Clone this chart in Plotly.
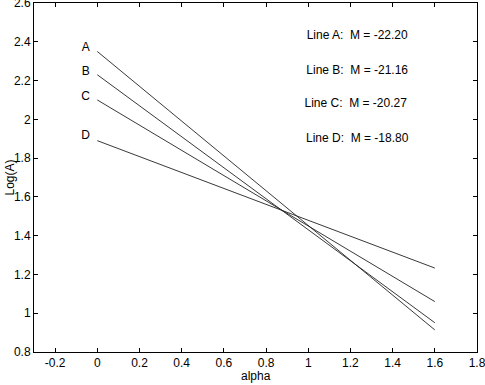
import plotly.graph_objects as go

# line endpoints (x = alpha, y = Log(A))
alpha = [0.0, 1.6]
line_names = ["A", "B", "C", "D"]
log_a = {
    "A": [2.35, 0.914],
    "B": [2.23, 0.951],
    "C": [2.10, 1.060],
    "D": [1.89, 1.233],
}
slopes = ["-22.20", "-21.16", "-20.27", "-18.80"]

# letter labels next to the line starts
letter_x = [-0.055, -0.055, -0.055, -0.055]
letter_y = [2.37, 2.246, 2.113, 1.914]

# slope text block
note_x = [1.232, 1.232, 1.225, 1.232]
note_y = [2.43, 2.251, 2.079, 1.90]

FONT = "Liberation Sans, Arial, Helvetica, sans-serif"

fig = go.Figure()

for name in line_names:
    fig.add_trace(go.Scatter(x=alpha, y=log_a[name], mode="lines",
                             line=dict(color="#222222", width=0.9),
                             showlegend=False, hoverinfo="skip"))

fig.add_trace(go.Scatter(x=letter_x, y=letter_y, mode="text", text=line_names,
                         textfont=dict(family=FONT, size=12, color="black"),
                         showlegend=False, hoverinfo="skip"))

notes = [f"Line {n}:  M = {m}" for n, m in zip(line_names, slopes)]
fig.add_trace(go.Scatter(x=note_x, y=note_y, mode="text", text=notes,
                         textfont=dict(family=FONT, size=12, color="black"),
                         showlegend=False, hoverinfo="skip"))

axis_style = dict(showgrid=False, zeroline=False, showline=True, linecolor="black",
                  linewidth=1, mirror="ticks", ticks="inside", ticklen=4,
                  tickcolor="black", automargin=False, ticklabeloverflow="allow",
                  tickfont=dict(family=FONT, size=12, color="black"))

fig.update_xaxes(range=[-0.3, 1.8], tickvals=[-0.2, 0, 0.2, 0.4, 0.6, 0.8, 1, 1.2, 1.4, 1.6, 1.8],
                 ticktext=["-0.2", "0", "0.2", "0.4", "0.6", "0.8", "1", "1.2", "1.4", "1.6", "1.8"],
                 **axis_style)
fig.update_yaxes(range=[0.8, 2.6], tickvals=[0.8, 1, 1.2, 1.4, 1.6, 1.8, 2, 2.2, 2.4, 2.6],
                 ticktext=["0.8", "1", "1.2", "1.4", "1.6", "1.8", "2", "2.2", "2.4", "2.6"],
                 **axis_style)

fig.add_annotation(text="alpha", xref="paper", yref="paper", x=0.5, y=0,
                   xanchor="center", yanchor="top", yshift=-15, showarrow=False,
                   font=dict(family=FONT, size=12, color="black"))
fig.add_annotation(text="Log(A)", xref="paper", yref="paper", x=0, y=0.5,
                   xanchor="center", yanchor="middle", xshift=-25, textangle=-90,
                   showarrow=False, font=dict(family=FONT, size=12, color="black"))

fig.update_layout(width=485, height=385, margin=dict(l=34, r=8, t=3, b=33),
                  paper_bgcolor="white", plot_bgcolor="white",
                  font=dict(family=FONT, size=12, color="black"))

# drop the page's default body margin so the figure sits at the window's corner
fig.write_html("out.html", config={"displayModeBar": False},
               post_script="document.body.style.margin='0';document.body.style.overflow='hidden';")
